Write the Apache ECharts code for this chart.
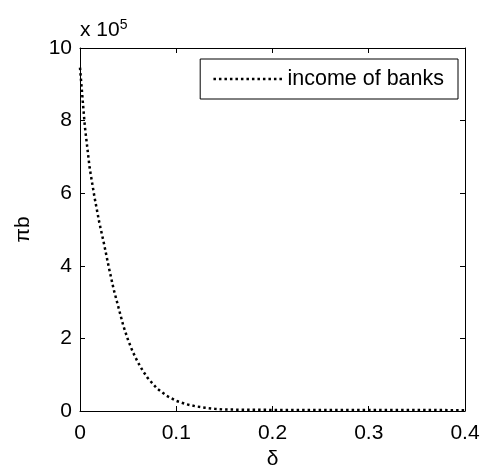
<!DOCTYPE html>
<html>
<head>
<meta charset="utf-8">
<script src="https://cdn.jsdelivr.net/npm/echarts@6/dist/echarts.min.js"></script>
<style>html,body{margin:0;padding:0;background:#fff}#c{width:481px;height:467px}</style>
</head>
<body>
<div id="c"></div>
<script>
const deltaValues = [0,0.005,0.01,0.015,0.02,0.025,0.03,0.035,0.04,0.045,0.05,0.055,0.06,0.065,0.07,0.08,0.09,0.1,0.11,0.12,0.13,0.14,0.15,0.2,0.25,0.3,0.35,0.4];
const incomeOfBanks = [946000,785000,670000,590000,520000,460000,395000,335000,285000,235000,195000,162000,135000,112000,92000,62000,42000,28000,19000,13000,9000,6000,4000,3000,3000,3000,3000,2000];
const xTicks = [0,0.1,0.2,0.3,0.4];
const yTickLabels = ['0','2','4','6','8','10'];
const seriesName = 'income of banks';

const font = 'Liberation Sans, Arial, sans-serif';
const chart = echarts.init(document.getElementById('c'), null, {renderer:'canvas'});
const pts = deltaValues.map((d,i)=>[d, incomeOfBanks[i]]);
const axisCommon = {
  axisLine:{show:true,onZero:false,lineStyle:{color:'#000',width:1}},
  axisTick:{show:true,inside:true,length:5,lineStyle:{color:'#000'}},
  splitLine:{show:false}
};
chart.setOption({
  animation:false,
  backgroundColor:'#fff',
  grid:{left:80,right:16,top:48,bottom:56,containLabel:false,outerBoundsMode:'none'},
  legend:{
    show:true,
    data:[seriesName],
    right:23, top:59,
    orient:'vertical',
    backgroundColor:'#fff',
    borderColor:'#000', borderWidth:1,
    padding:[9,14,9,12],
    itemWidth:69, itemHeight:14,
    itemStyle:{opacity:0},
    lineStyle:{color:'#000',width:2.5,type:[2.5,3]},
    textStyle:{fontFamily:font,fontSize:21.5,color:'#000'}
  },
  xAxis:[
    Object.assign({type:'value',min:0,max:0.4,interval:0.1,position:'bottom',
      name:'δ',nameLocation:'middle',nameGap:36,
      nameTextStyle:{fontFamily:font,fontSize:21,color:'#000'},
      axisLabel:{color:'#000',fontFamily:font,fontSize:21,margin:12,formatter:v=>{const i=xTicks.findIndex(t=>Math.abs(t-v)<1e-9);return i>=0?String(xTicks[i]):'';}}},axisCommon),
    Object.assign({type:'value',min:0,max:0.4,interval:0.1,position:'top',axisLabel:{show:false}},axisCommon)
  ],
  yAxis:[
    Object.assign({type:'value',min:0,max:1000000,interval:200000,position:'left',
      name:'πb',nameLocation:'middle',nameGap:46,
      nameTextStyle:{fontFamily:font,fontSize:21,color:'#000'},
      axisLabel:{color:'#000',fontFamily:font,fontSize:21,margin:8,formatter:v=>yTickLabels[Math.round(v/200000)]||''}},axisCommon),
    Object.assign({type:'value',min:0,max:1000000,interval:200000,position:'right',axisLabel:{show:false}},axisCommon)
  ],
  graphic:[{
    type:'text', left:80, top:18,
    style:{
      rich:{b:{fontFamily:font,fontSize:21,fill:'#000'},s:{fontFamily:font,fontSize:14,fill:'#000',verticalAlign:'top',padding:[0,0,10,0]}},
      text:'{b|x 10}{s|5}'
    }
  }],
  series:[{
    name:seriesName,
    type:'line',
    data:pts,
    symbol:'none',
    smooth:false,
    lineStyle:{color:'#000',width:2.5,type:[2.5,3]},
    itemStyle:{color:'#000'}
  }]
});
</script>
</body>
</html>
